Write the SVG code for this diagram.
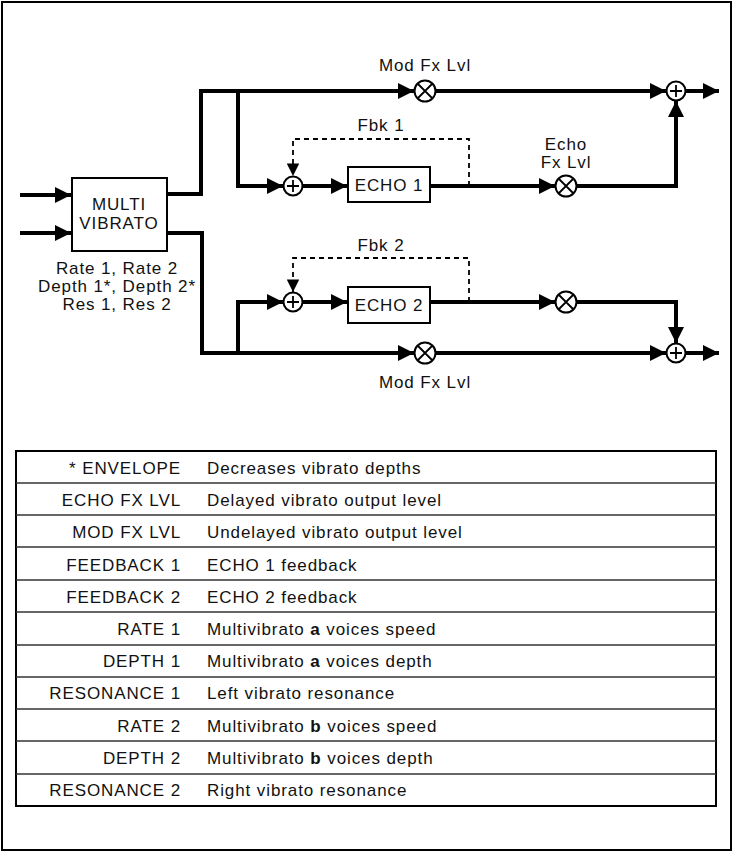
<svg xmlns="http://www.w3.org/2000/svg" width="734" height="853" viewBox="0 0 734 853">
<style>
text{font-family:"Liberation Sans",Arial,sans-serif;font-size:17px;fill:#111;letter-spacing:0.9px}
.w{fill:none;stroke:#000;stroke-width:4}
.d{fill:none;stroke:#000;stroke-width:1.8;stroke-dasharray:5,4}
.box{fill:#fff;stroke:#000;stroke-width:2}
.op{fill:#fff;stroke:#000;stroke-width:2}
.g{stroke:#000;stroke-width:1.8}
.r{stroke:#333;stroke-width:1.5}
</style>
<defs>
<marker id="a" markerWidth="4" markerHeight="4" refX="4" refY="2" orient="auto" markerUnits="strokeWidth"><path d="M0,0L4,2L0,4z" fill="#000"/></marker>
<marker id="ad" markerWidth="7" markerHeight="7" refX="7" refY="3.5" orient="auto" markerUnits="strokeWidth"><path d="M0,0L7,3.5L0,7z" fill="#000"/></marker>
</defs>
<rect x="2" y="2" width="729" height="848" fill="#fff" stroke="#000" stroke-width="2"/>
<g id="connectors">
<line class="w" x1="20" y1="195" x2="71" y2="195" marker-end="url(#a)"/>
<line class="w" x1="20" y1="233" x2="71" y2="233" marker-end="url(#a)"/>
<polyline class="w" points="167,194 201,194 201,91 414,91" marker-end="url(#a)"/>
<polyline class="w" points="238,91 238,186 283,186" marker-end="url(#a)"/>
<line class="w" x1="303" y1="186" x2="347" y2="186" marker-end="url(#a)"/>
<line class="w" x1="430" y1="186" x2="555" y2="186" marker-end="url(#a)"/>
<line class="w" x1="436" y1="91" x2="666" y2="91" marker-end="url(#a)"/>
<polyline class="w" points="577,186 676,186 676,101" marker-end="url(#a)"/>
<line class="w" x1="686" y1="91" x2="719" y2="91" marker-end="url(#a)"/>
<polyline class="d" points="469,186 469,139 293,139 293,176" marker-end="url(#ad)"/>
<polyline class="w" points="167,233 202,233 202,353 414,353" marker-end="url(#a)"/>
<polyline class="w" points="238,353 238,302 283,302" marker-end="url(#a)"/>
<line class="w" x1="303" y1="302" x2="347" y2="302" marker-end="url(#a)"/>
<line class="w" x1="430" y1="302" x2="555" y2="302" marker-end="url(#a)"/>
<line class="w" x1="436" y1="353" x2="666" y2="353" marker-end="url(#a)"/>
<polyline class="w" points="577,302 676,302 676,343" marker-end="url(#a)"/>
<line class="w" x1="686" y1="353" x2="719" y2="353" marker-end="url(#a)"/>
<polyline class="d" points="469,302 469,258 293,258 293,292" marker-end="url(#ad)"/>
</g>
<g id="multivibrato">
<rect class="box" x="72" y="178" width="95" height="73"/>
<text x="119" y="210" text-anchor="middle" font-size="18" letter-spacing="0.3">MULTI</text>
<text x="119" y="229" text-anchor="middle" font-size="18" letter-spacing="0.3">VIBRATO</text>
<text x="117" y="274" text-anchor="middle">Rate 1, Rate 2</text>
<text x="117" y="292" text-anchor="middle">Depth 1*, Depth 2*</text>
<text x="117" y="310" text-anchor="middle">Res 1, Res 2</text>
</g>
<g id="echo1"><rect class="box" x="348" y="167" width="82" height="35"/><text x="389" y="191" text-anchor="middle" font-size="18" letter-spacing="0.3">ECHO 1</text></g>
<g id="echo2"><rect class="box" x="348" y="287" width="82" height="36"/><text x="389" y="311" text-anchor="middle" font-size="18" letter-spacing="0.3">ECHO 2</text></g>
<g id="sum1"><circle class="op" cx="293" cy="186" r="9.5"/><path class="g" d="M287,186h12M293,180v12"/></g>
<g id="sum2"><circle class="op" cx="293" cy="302" r="9.5"/><path class="g" d="M287,302h12M293,296v12"/></g>
<g id="sumTop"><circle class="op" cx="676" cy="91" r="9.5"/><path class="g" d="M670,91h12M676,85v12"/></g>
<g id="sumBot"><circle class="op" cx="676" cy="353" r="9.5"/><path class="g" d="M670,353h12M676,347v12"/></g>
<g id="modTop"><circle class="op" cx="425" cy="91" r="10.5"/><path class="g" d="M418,84l14,14M432,84l-14,14"/><text x="425" y="71" text-anchor="middle">Mod Fx Lvl</text></g>
<g id="modBot"><circle class="op" cx="425" cy="353" r="10.5"/><path class="g" d="M418,346l14,14M432,346l-14,14"/><text x="425" y="388" text-anchor="middle">Mod Fx Lvl</text></g>
<g id="echoLvl1"><circle class="op" cx="566" cy="186" r="10.5"/><path class="g" d="M559,179l14,14M573,179l-14,14"/><text x="566" y="150" text-anchor="middle">Echo</text><text x="566" y="168" text-anchor="middle">Fx Lvl</text></g>
<g id="echoLvl2"><circle class="op" cx="566" cy="302" r="10.5"/><path class="g" d="M559,295l14,14M573,295l-14,14"/></g>
<text x="381" y="131" text-anchor="middle">Fbk 1</text>
<text x="381" y="251" text-anchor="middle">Fbk 2</text>
<g id="table">
<rect x="16" y="451" width="700" height="355" fill="none" stroke="#000" stroke-width="2"/>
<g class="r">
<line x1="16" y1="483" x2="716" y2="483"/><line x1="16" y1="515" x2="716" y2="515"/><line x1="16" y1="547" x2="716" y2="547"/><line x1="16" y1="580" x2="716" y2="580"/><line x1="16" y1="612" x2="716" y2="612"/><line x1="16" y1="645" x2="716" y2="645"/><line x1="16" y1="677" x2="716" y2="677"/><line x1="16" y1="709" x2="716" y2="709"/><line x1="16" y1="741" x2="716" y2="741"/><line x1="16" y1="774" x2="716" y2="774"/>
</g>
<g text-anchor="end" letter-spacing="0.3">
<text x="181" y="474">* ENVELOPE</text><text x="181" y="506">ECHO FX LVL</text><text x="181" y="538">MOD FX LVL</text><text x="181" y="571">FEEDBACK 1</text><text x="181" y="603">FEEDBACK 2</text><text x="181" y="635">RATE 1</text><text x="181" y="667">DEPTH 1</text><text x="181" y="699">RESONANCE 1</text><text x="181" y="732">RATE 2</text><text x="181" y="764">DEPTH 2</text><text x="181" y="796">RESONANCE 2</text>
</g>
<g>
<text x="207" y="474">Decreases vibrato depths</text><text x="207" y="506">Delayed vibrato output level</text><text x="207" y="538">Undelayed vibrato output level</text><text x="207" y="571">ECHO 1 feedback</text><text x="207" y="603">ECHO 2 feedback</text>
<text x="207" y="635">Multivibrato <tspan font-weight="bold">a</tspan> voices speed</text>
<text x="207" y="667">Multivibrato <tspan font-weight="bold">a</tspan> voices depth</text>
<text x="207" y="699">Left vibrato resonance</text>
<text x="207" y="732">Multivibrato <tspan font-weight="bold">b</tspan> voices speed</text>
<text x="207" y="764">Multivibrato <tspan font-weight="bold">b</tspan> voices depth</text>
<text x="207" y="796">Right vibrato resonance</text>
</g>
</g>
</svg>
